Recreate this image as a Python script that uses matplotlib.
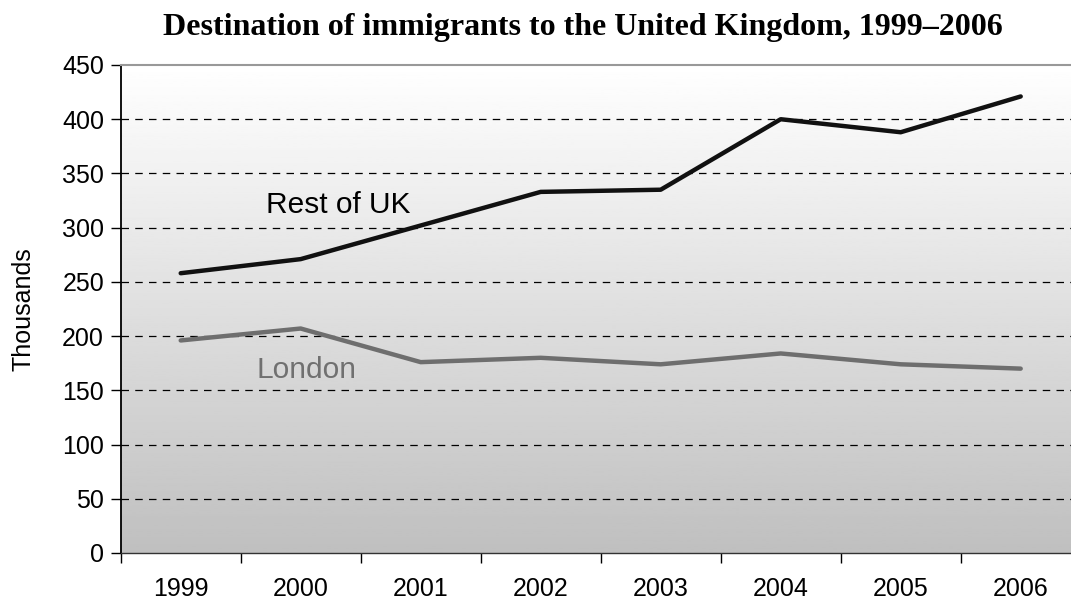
import matplotlib
matplotlib.use("Agg")
import matplotlib.pyplot as plt
import numpy as np

years = ['1999', '2000', '2001', '2002', '2003', '2004', '2005', '2006']
rest_of_uk = [258, 271, 302, 333, 335, 400, 388, 421]
london = [196, 207, 176, 180, 174, 184, 174, 170]
y_ticks = [0, 50, 100, 150, 200, 250, 300, 350, 400, 450]

fig = plt.figure(figsize=(10.71, 6.04), dpi=100)
# plot area runs a little past the right edge, like the original
ax = fig.add_axes([120.7 / 1071, 51 / 604, 960 / 1071, 488 / 604])

x = np.arange(len(years))
ax.set_xlim(-0.5, len(years) - 0.5)
ax.set_ylim(0, 450)

# gradient background, white at top to grey at bottom
grad = np.linspace(1.0, 0.75, 256).reshape(-1, 1)
ax.imshow(grad, cmap='gray', vmin=0, vmax=1, aspect='auto',
          extent=[0, 1, 0, 1], transform=ax.transAxes, zorder=0)

for v in y_ticks[1:-1]:
    ax.axhline(v, color='black', lw=0.9, ls=(0, (6, 5)), zorder=1)

ax.plot(x, rest_of_uk, color='#111111', lw=3.2, solid_capstyle='round', zorder=3)
ax.plot(x, london, color='#6e6e6e', lw=3.2, solid_capstyle='round', zorder=3)

ax.text(1.31, 321, 'Rest of UK', fontsize=21.5, family='Liberation Sans',
        color='black', ha='center', va='center')
ax.text(1.05, 169, 'London', fontsize=21.5, family='Liberation Sans',
        color='#707070', ha='center', va='center')

ax.set_yticks(y_ticks)
ax.set_yticklabels([str(v) for v in y_ticks], family='Liberation Sans', fontsize=18)
ax.set_xticks(x)
ax.set_xticklabels(years, family='Liberation Sans', fontsize=18)
ax.set_xticks(np.arange(-0.5, len(years)), minor=True)
ax.tick_params(axis='x', which='major', length=0, pad=17)
ax.tick_params(axis='x', which='minor', length=7, width=1, direction='out')
ax.tick_params(axis='y', length=7, width=1, direction='out', pad=5)

ax.spines['top'].set_color('#999999')
ax.spines['top'].set_linewidth(1.5)
ax.spines['right'].set_visible(False)
ax.spines['left'].set_linewidth(1.3)
ax.spines['bottom'].set_linewidth(1.0)
ax.spines['bottom'].set_color('#333333')

ax.set_ylabel('Thousands', family='Liberation Sans', fontsize=18, labelpad=19)

fig.text(583 / 1071, 1 - 28 / 604, 'Destination of immigrants to the United Kingdom, 1999\u20132006',
         family='Liberation Serif', fontweight='bold', fontsize=23,
         ha='center', va='center')

fig.savefig('out.png', dpi=100)
